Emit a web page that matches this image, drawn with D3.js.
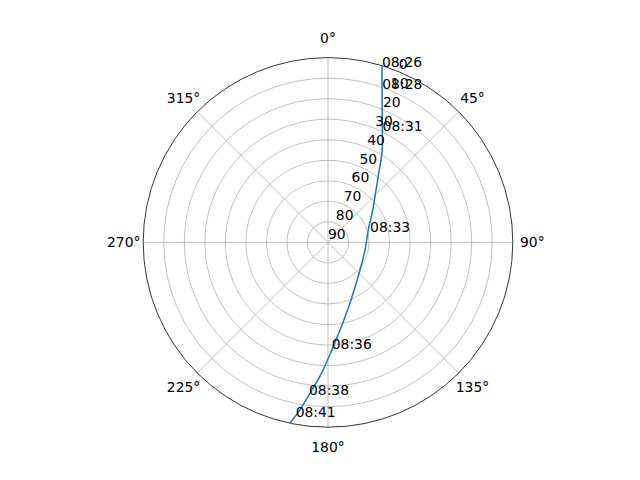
<!DOCTYPE html>
<html>
<head>
<meta charset="utf-8">
<script src="https://cdn.jsdelivr.net/npm/d3@7"></script>
<style>
  body { margin: 0; background: #fff; }
  text { font-family: "DejaVu Sans", sans-serif; font-size: 13.9px; fill: #000; }
</style>
</head>
<body>
<script>
// sky track of the pass: azimuth (deg, from north, clockwise) and elevation (deg)
const trackAz = [17.0, 20.8, 25.8, 30.4, 35.3, 42.5, 54.1, 72.9, 101.6, 130.8, 160.0, 172.2, 178.0, 182.8, 186.8, 189.5, 191.9];
const trackEl = [0.0, 15.8, 29.2, 37.8, 46.8, 55.4, 63.1, 69.5, 71.6, 69.4, 58.6, 46.9, 37.5, 26.3, 16.1, 7.3, 0.1];

// time stamps written along the track
const timeLabels = ['08:26', '08:28', '08:31', '08:33', '08:36', '08:38', '08:41'];
const timeAz = [17.1, 19.5, 26.1, 76.1, 178.0, 187.1, 190.5];
const timeEl = [0.5, 10.8, 29.6, 68.9, 38.0, 15.1, 3.5];

// axis ticks
const thetaTicks = [0, 45, 90, 135, 180, 225, 270, 315];
const rTicks = [0, 10, 20, 30, 40, 50, 60, 70, 80, 90];
const rLabelAngle = 22.5;

const SIZE = { width: 640, height: 480, cx: 328, cy: 242.4, radius: 184.8 };

const svg = d3.select('body').append('svg')
    .attr('width', SIZE.width)
    .attr('height', SIZE.height);

const canvas = svg.append('g')
    .attr('transform', `translate(${SIZE.cx},${SIZE.cy})`);

// elevation 90 sits at the centre, 0 on the rim
const rScale = d3.scaleLinear().domain([90, 0]).range([0, SIZE.radius]);
const aScale = d3.scaleLinear().domain([0, 360]).range([0, 2 * Math.PI]);

// point on screen for a given azimuth / elevation
const toXY = (az, el) => {
    const a = aScale(az), r = rScale(el);
    return [r * Math.sin(a), -r * Math.cos(a)];
};

const grid = canvas.append('g').attr('class', 'grid');

// rings
grid.selectAll('circle')
    .data(rTicks.filter(d => d > 0 && d < 90))
    .enter()
    .append('circle')
    .attr('r', d => rScale(d))
    .attr('fill', 'none')
    .attr('stroke', '#b0b0b0')
    .attr('stroke-width', 0.8);

// spokes
grid.selectAll('line')
    .data(thetaTicks)
    .enter()
    .append('line')
    .attr('x1', 0).attr('y1', 0)
    .attr('x2', d => toXY(d, 0)[0])
    .attr('y2', d => toXY(d, 0)[1])
    .attr('stroke', '#b0b0b0')
    .attr('stroke-width', 0.8);

// outer spine
canvas.append('circle')
    .attr('r', rScale(0))
    .attr('fill', 'none')
    .attr('stroke', '#000')
    .attr('stroke-width', 0.8);

// angle labels
canvas.append('g').selectAll('text')
    .data(thetaTicks)
    .enter()
    .append('text')
    .attr('x', d => (SIZE.radius + 19.5) * Math.sin(aScale(d)))
    .attr('y', d => -(SIZE.radius + 19.5) * Math.cos(aScale(d)))
    .attr('text-anchor', 'middle')
    .attr('dominant-baseline', 'central')
    .text(d => d + '°');

// track
const track = trackAz.map((az, i) => ({ az: az, el: trackEl[i] }));
const line = d3.lineRadial()
    .angle(d => aScale(d.az))
    .radius(d => rScale(d.el))
    .curve(d3.curveCatmullRom);

canvas.append('path')
    .datum(track)
    .attr('d', line)
    .attr('fill', 'none')
    .attr('stroke', '#1f77b4')
    .attr('stroke-width', 1.5);

// radial labels
canvas.append('g').selectAll('text')
    .data(rTicks)
    .enter()
    .append('text')
    .attr('x', d => toXY(rLabelAngle, d)[0])
    .attr('y', d => toXY(rLabelAngle, d)[1] - 8)
    .attr('dominant-baseline', 'central')
    .text(d => d);

// time stamps
canvas.append('g').selectAll('text')
    .data(timeLabels)
    .enter()
    .append('text')
    .attr('x', (d, i) => toXY(timeAz[i], timeEl[i])[0])
    .attr('y', (d, i) => toXY(timeAz[i], timeEl[i])[1])
    .text(d => d);
</script>
</body>
</html>
